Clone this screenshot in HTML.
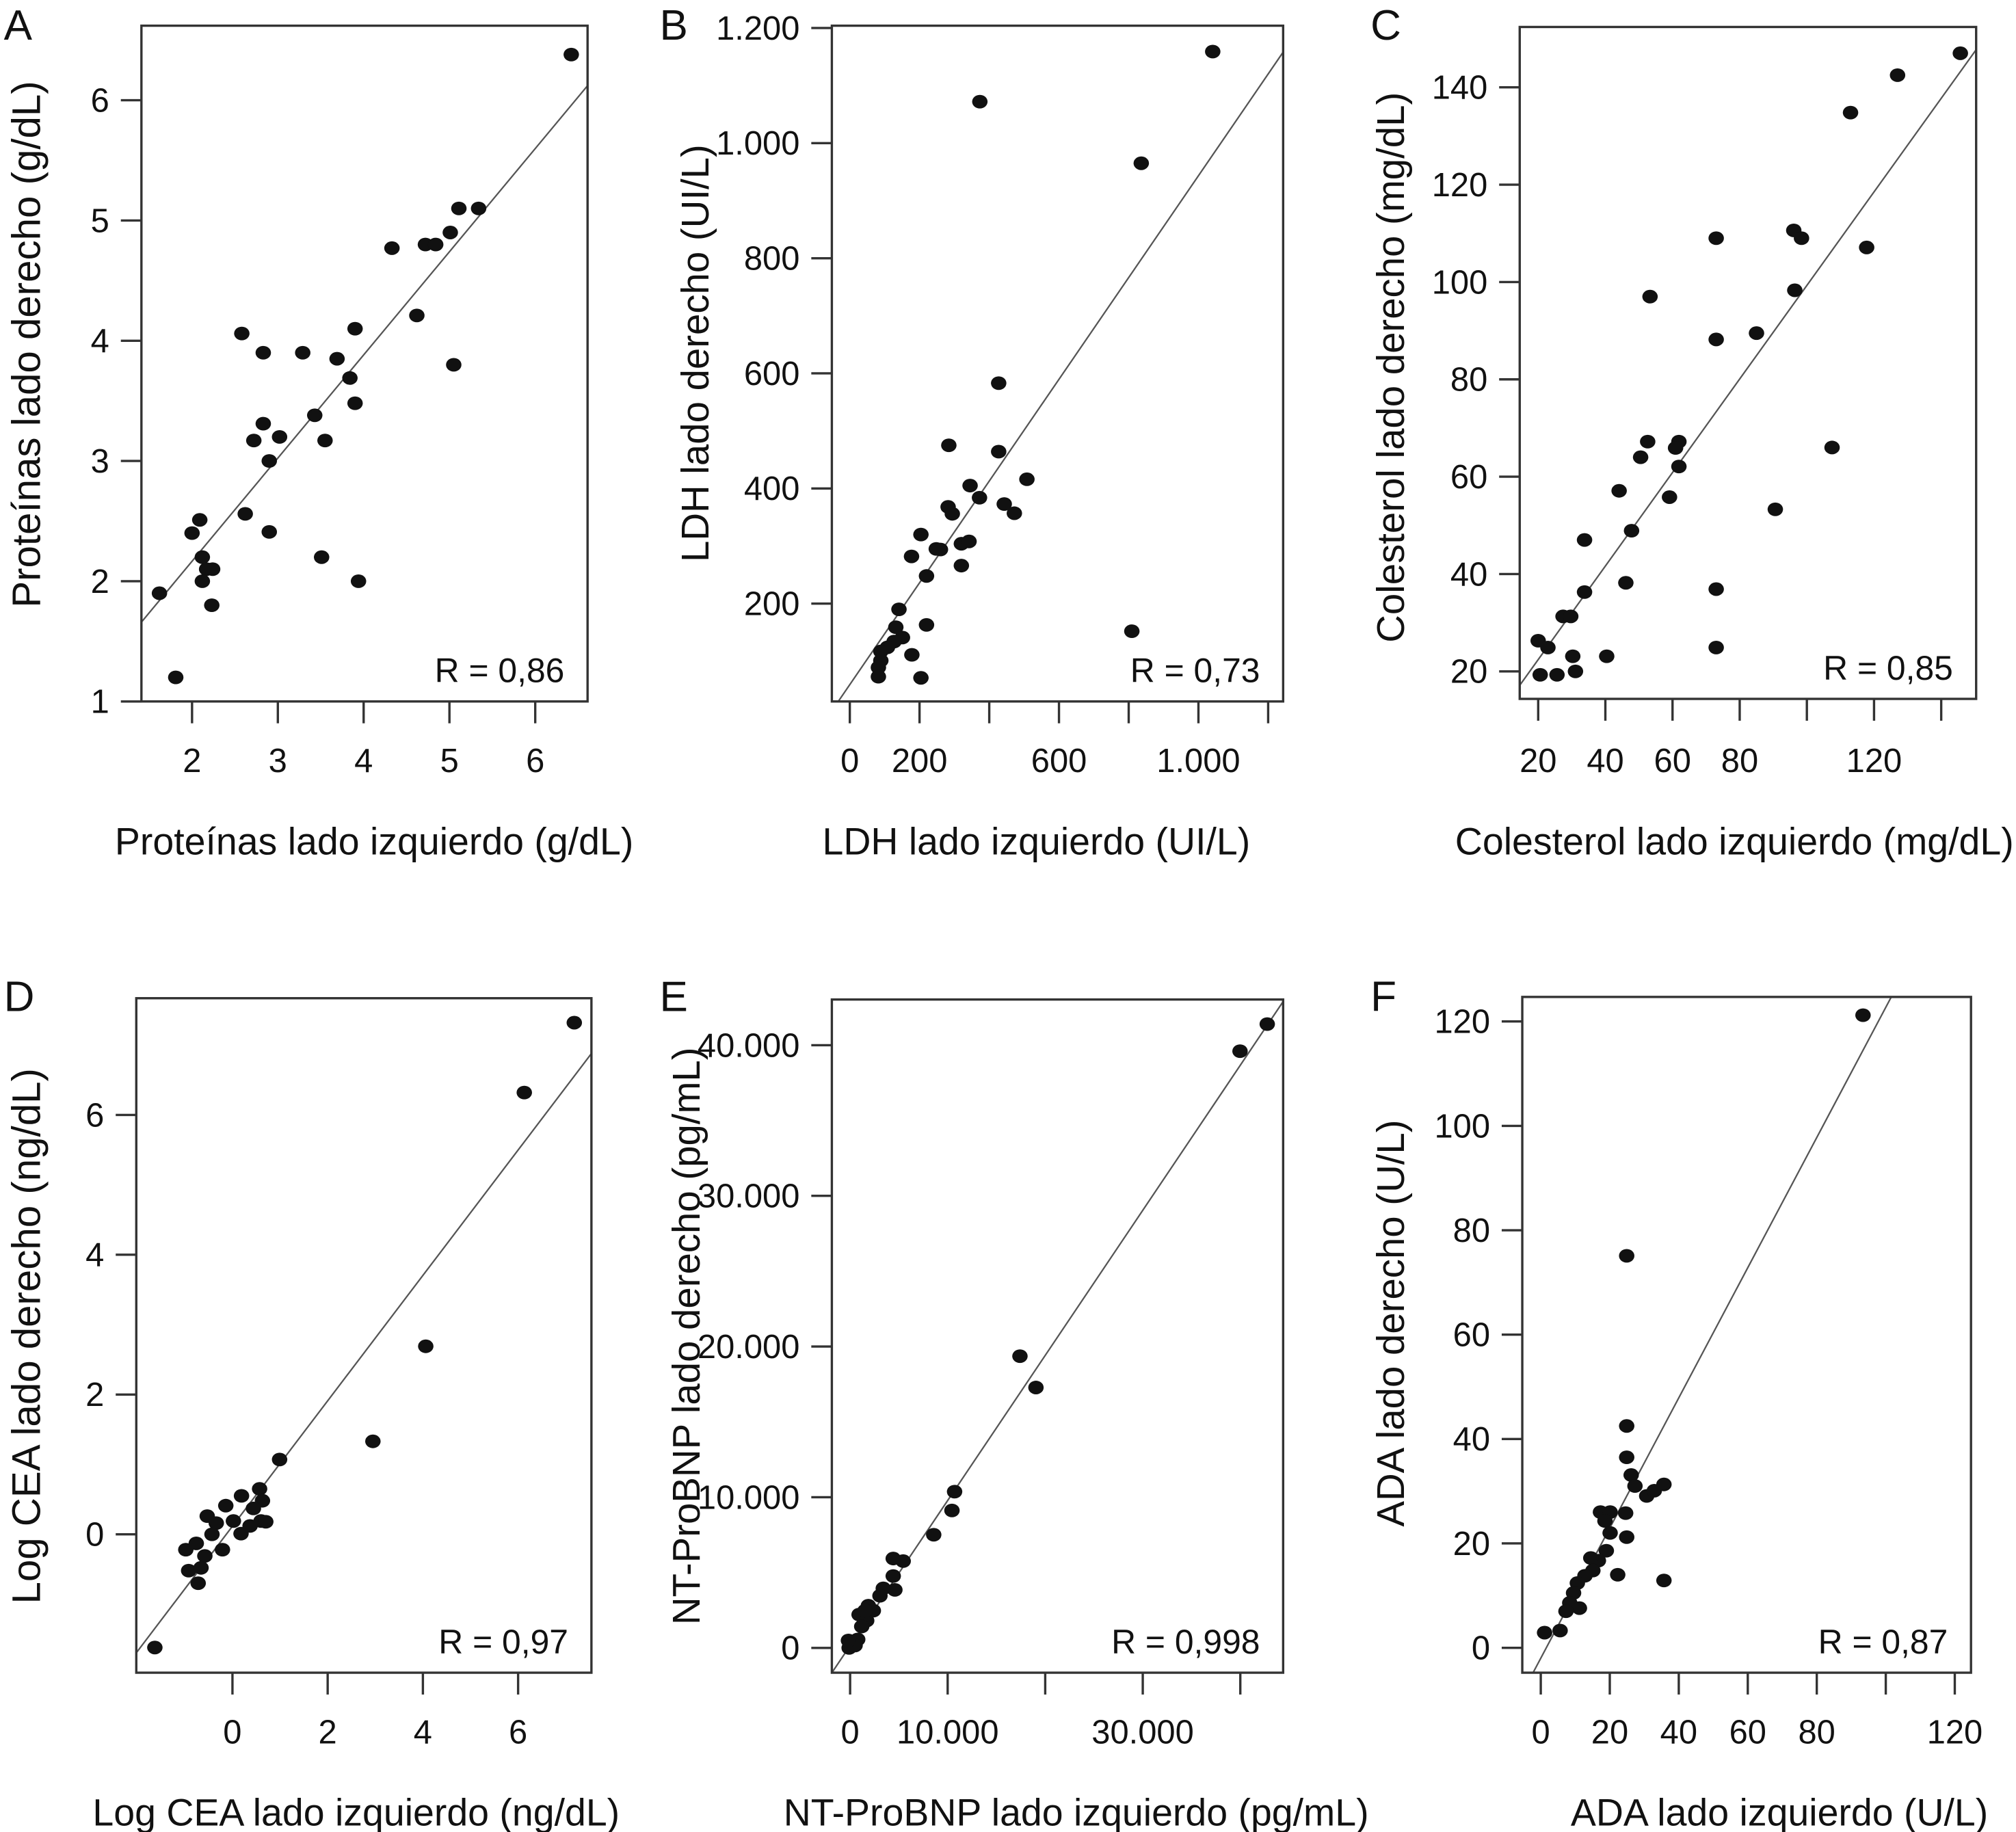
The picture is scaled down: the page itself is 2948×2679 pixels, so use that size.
<!DOCTYPE html>
<html><head><meta charset="utf-8"><style>
html,body{margin:0;padding:0;background:#fff;}
svg{display:block;font-family:"Liberation Sans",Arial,sans-serif;}
</style></head><body>
<svg id="fig" xmlns="http://www.w3.org/2000/svg" width="2948" height="2679" viewBox="0 0 1568 1426" preserveAspectRatio="none"></svg>
<script>
// ---- Panel A data ----
const aX=[6.42,1.62,1.81,2.0,2.09,2.12,2.17,2.24,2.12,2.23,2.58,2.62,2.72,2.83,2.83,2.90,2.90,3.02,3.29,3.43,3.51,3.55,3.69,3.84,3.90,3.90,3.94,4.33,4.62,4.72,4.84,5.01,5.05,5.11,5.34];
const aY=[6.38,1.90,1.20,2.40,2.51,2.20,2.10,2.10,2.0,1.80,4.06,2.56,3.17,3.90,3.31,3.0,2.41,3.20,3.90,3.38,2.20,3.17,3.85,3.69,4.10,3.48,2.0,4.77,4.21,4.80,4.80,4.90,3.80,5.10,5.10];
const aFit=[0.858,0.45];
const aXTicks=[2,3,4,5,6], aXLabels=["2","3","4","5","6"];
const aYTicks=[1,2,3,4,5,6], aYLabels=["1","2","3","4","5","6"];
// ---- Panel B data ----
const bX=[1041,373,836,427,284,427,508,345,372,443,472,282,294,204,177,248,260,320,342,320,220,141,220,132,151,127,108,89,178,89,82,82,204,809];
const bY=[1159,1072,965,583,475,464,416,405,384,373,357,368,356,320,282,295,294,304,308,266,248,190,163,159,141,134,124,117,111,101,89,73,71,152];
const bFit=[0.884,59.3];
const bXTicks=[0,200,400,600,800,1000,1200], bXLabels=["0","200","","600","","1.000",""];
const bYTicks=[200,400,600,800,1000,1200], bYLabels=["200","400","600","800","1.000","1.200"];
// ---- Panel C data ----
const cX=[145.7,127.0,113.0,117.8,73.0,96.1,98.4,96.4,53.3,85.0,73.0,52.6,61.9,60.9,50.5,61.9,107.5,44.1,59.1,90.6,47.8,33.8,46.1,73.0,33.8,27.4,29.7,20.0,22.9,30.3,40.4,73.0,20.6,25.6,31.1];
const cY=[147.0,142.5,134.8,107.1,109.0,110.6,109.0,98.3,97.0,89.5,88.2,67.2,67.2,65.9,64.0,62.1,66.0,57.1,55.8,53.3,48.9,47.0,38.2,36.9,36.3,31.3,31.3,26.3,24.9,23.1,23.1,24.9,19.3,19.3,20.0];
const cFit=[0.961,3.2];
const cXTicks=[20,40,60,80,100,120,140], cXLabels=["20","40","60","80","","120",""];
const cYTicks=[20,40,60,80,100,120,140], cYLabels=["20","40","60","80","100","120","140"];
// ---- Panel D data ----
const dX=[7.18,6.13,4.06,2.95,0.99,-1.63,0.57,0.63,0.60,0.70,0.44,0.19,-0.14,0.18,0.02,-0.53,-0.34,-0.43,-0.21,-0.76,-0.98,-0.58,-0.92,-0.66,-0.72,0.37];
const dY=[7.32,6.32,2.69,1.33,1.07,-1.62,0.65,0.48,0.19,0.18,0.37,0.55,0.41,0.01,0.19,0.26,0.16,0.0,-0.22,-0.13,-0.22,-0.31,-0.52,-0.48,-0.70,0.12];
const dFit=[0.897,0.116];
const dXTicks=[0,2,4,6], dXLabels=["0","2","4","6"];
const dYTicks=[0,2,4,6], dYLabels=["0","2","4","6"];
// ---- Panel E data (pg/mL) ----
const eX=[42760,39970,17410,19050,10710,10440,8570,5440,4420,4420,4590,3400,3060,1870,2380,920,1700,1190,780,170,-100,510,-170,1530];
const eY=[41400,39600,19360,17280,10370,9120,7510,5760,5930,4770,3850,3950,3460,2800,2470,2210,1810,1420,560,230,0,160,490,2470];
const eFit=[0.963,150];
const eXTicks=[0,10000,20000,30000,40000], eXLabels=["0","10.000","","30.000",""];
const eYTicks=[0,10000,20000,30000,40000], eYLabels=["0","10.000","20.000","30.000","40.000"];
// ---- Panel F data ----
const fX=[93.4,24.9,24.9,24.9,26.2,27.3,30.7,32.9,35.7,24.6,17.3,20.1,18.6,20.1,24.9,19.0,16.7,14.5,15.1,12.8,22.3,35.7,10.6,9.5,8.4,11.2,7.3,5.6,1.1];
const fY=[121.2,75.1,42.5,36.5,33.1,31.0,29.1,30.1,31.3,25.8,26.0,26.0,24.3,22.0,21.2,18.6,16.7,17.2,14.8,13.8,14.0,12.9,12.4,10.5,8.6,7.6,7.0,3.3,2.9];
const fFit=[1.247,-1.99];
const fXTicks=[0,20,40,60,80,100,120], fXLabels=["0","20","40","60","80","","120"];
const fYTicks=[0,20,40,60,80,100,120], fYLabels=["0","20","40","60","80","100","120"];

const NS="http://www.w3.org/2000/svg";
const svg=document.getElementById('fig');
function mk(tag,attrs,parent){const e=document.createElementNS(NS,tag);for(const k in attrs)e.setAttribute(k,attrs[k]);(parent||svg).appendChild(e);return e;}

function panel(cfg){
  const g=mk('g',{});
  
  
  const L=cfg.box[0],R=cfg.box[1],T=cfg.box[2],B=cfg.box[3];
  const sx=v=>L+(v-cfg.xd[0])/(cfg.xd[1]-cfg.xd[0])*(R-L);
  const sy=v=>B-(v-cfg.yd[0])/(cfg.yd[1]-cfg.yd[0])*(B-T);
  const clip='clip'+cfg.letter;
  const cp=mk('clipPath',{id:clip},g);mk('rect',{x:L,y:T,width:R-L,height:B-T},cp);
  const x0=cfg.xd[0],x1=cfg.xd[1];
  const ln=mk('line',{x1:sx(x0),y1:sy(cfg.fit[0]*x0+cfg.fit[1]),x2:sx(x1),y2:sy(cfg.fit[0]*x1+cfg.fit[1]),stroke:'#555','stroke-width':1.2,'clip-path':'url(#'+clip+')'},g);
  
  
  for(let i=0;i<cfg.x.length;i++){
    const c=mk('ellipse',{cx:sx(cfg.x[i]),cy:sy(cfg.y[i]),rx:6,ry:5.3,fill:'#111'},g);
    
    
  }
  const bx=mk('rect',{x:L,y:T,width:R-L,height:B-T,fill:'none',stroke:'#333','stroke-width':1.8},g);
  
  
  cfg.xt.forEach((v,i)=>{
    const X=sx(v);
    const t=mk('line',{x1:X,y1:B,x2:X,y2:B+17,stroke:'#333','stroke-width':1.8},g);
    
    
    if(cfg.xl[i]){
      const tx=mk('text',{x:X,y:601+cfg.dy,'font-size':26,'text-anchor':'middle',fill:'#111'},g);
      tx.textContent=cfg.xl[i];
      
      
    }
  });
  cfg.yt.forEach((v,i)=>{
    const Y=sy(v);
    const t=mk('line',{x1:L-16,y1:Y,x2:L,y2:Y,stroke:'#333','stroke-width':1.8},g);
    
    
    const tx=mk('text',{x:L-25,y:Y+9,'font-size':26,'text-anchor':'end',fill:'#111'},g);
    tx.textContent=cfg.yl[i];
    
    
  });
  const xt=mk('text',{x:cfg.xtx,y:665+cfg.dy,'font-size':29.5,'text-anchor':'middle',fill:'#111'},g);
  xt.textContent=cfg.xtitle;
  
  
  const yt=mk('text',{x:0,y:0,'font-size':cfg.yfs,'text-anchor':'middle',fill:'#111',transform:'translate('+cfg.ytx+','+cfg.yty+') rotate(-90)'},g);
  yt.textContent=cfg.ytitle;
  
  
  const r=mk('text',{x:R-18,y:B-15,'font-size':26.5,'text-anchor':'end',fill:'#111'},g);
  r.textContent=cfg.r;
  
  
  const lt=mk('text',{x:cfg.lx,y:31+cfg.dy,'font-size':33,fill:'#111'},g);
  lt.textContent=cfg.letter;
  
  
}

panel({letter:'A',box:[110,457,20,546],xd:[1.41,6.61],yd:[1,6.62],x:aX,y:aY,fit:aFit,xt:aXTicks,xl:aXLabels,yt:aYTicks,yl:aYLabels,dy:0,xtx:291,xtitle:'Proteínas lado izquierdo (g/dL)',ytx:31,yty:268,yfs:31,ytitle:'Proteínas lado derecho (g/dL)',r:'R = 0,86',lx:3});
panel({letter:'B',box:[647,998,20,546],xd:[-51.5,1243],yd:[30,1204],x:bX,y:bY,fit:bFit,xt:bXTicks,xl:bXLabels,yt:bYTicks,yl:bYLabels,dy:0,xtx:806,xtitle:'LDH lado izquierdo (UI/L)',ytx:551,yty:275,yfs:30,ytitle:'LDH lado derecho (UI/L)',r:'R = 0,73',lx:513});
panel({letter:'C',box:[1182,1537,21,544],xd:[14.5,150.4],yd:[14.35,152.4],x:cX,y:cY,fit:cFit,xt:cXTicks,xl:cXLabels,yt:cYTicks,yl:cYLabels,dy:0,xtx:1349,xtitle:'Colesterol lado izquierdo (mg/dL)',ytx:1092,yty:286,yfs:30,ytitle:'Colesterol lado derecho (mg/dL)',r:'R = 0,85',lx:1066});
panel({letter:'D',box:[106,460,777,1302],xd:[-2.02,7.54],yd:[-1.98,7.67],x:dX,y:dY,fit:dFit,xt:dXTicks,xl:dXLabels,yt:dYTicks,yl:dYLabels,dy:756,xtx:277,xtitle:'Log CEA lado izquierdo (ng/dL)',ytx:31,yty:1040,yfs:31,ytitle:'Log CEA lado derecho (ng/dL)',r:'R = 0,97',lx:3});
panel({letter:'E',box:[647,998,778,1302],xd:[-1871,44390],yd:[-1646,43030],x:eX,y:eY,fit:eFit,xt:eXTicks,xl:eXLabels,yt:eYTicks,yl:eYLabels,dy:756,xtx:837,xtitle:'NT-ProBNP lado izquierdo (pg/mL)',ytx:544,yty:1040,yfs:30,ytitle:'NT-ProBNP lado derecho (pg/mL)',r:'R = 0,998',lx:513});
panel({letter:'F',box:[1184,1533,776,1302],xd:[-5.36,124.7],yd:[-4.77,124.7],x:fX,y:fY,fit:fFit,xt:fXTicks,xl:fXLabels,yt:fYTicks,yl:fYLabels,dy:756,xtx:1384,xtitle:'ADA lado izquierdo (U/L)',ytx:1092,yty:1030,yfs:30,ytitle:'ADA lado derecho (U/L)',r:'R = 0,87',lx:1066});
</script>
</body></html>
